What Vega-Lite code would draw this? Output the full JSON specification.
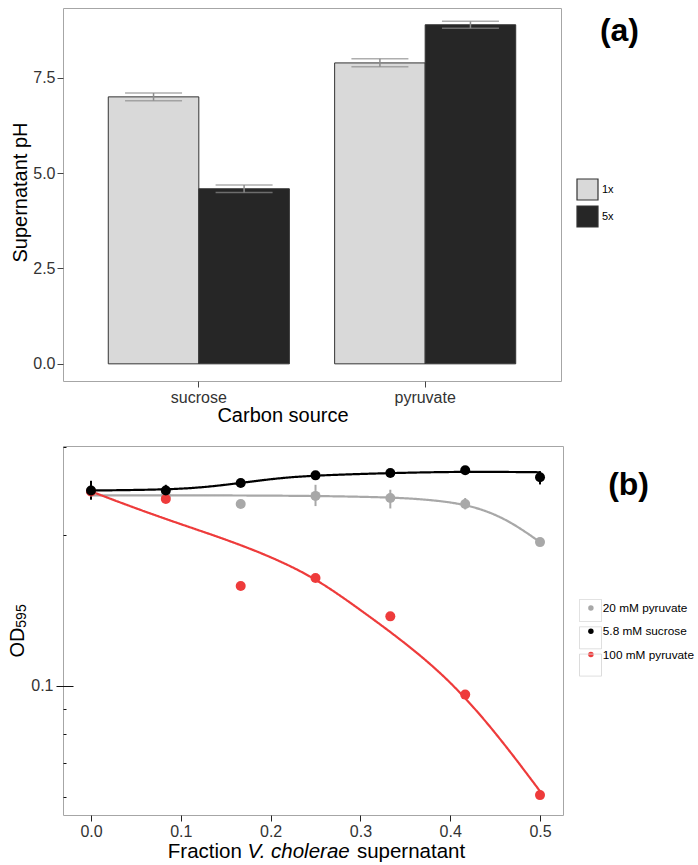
{
  "$schema": "https://vega.github.io/schema/vega-lite/v6.json",
  "padding": {"left": 6, "top": 7, "right": 0, "bottom": 0},
  "spacing": 19,
  "resolve": {"scale": {"color": "independent", "strokeDash": "independent"}, "legend": {"color": "independent", "strokeDash": "independent"}},
  "config": {
    "font": "Liberation Sans",
    "view": {"stroke": "#a6a6a6", "strokeWidth": 1},
    "axis": {"grid": false, "domain": false, "labelFont": "Liberation Sans", "titleFont": "Liberation Sans", "labelColor": "#333", "titleColor": "#000", "titleFontWeight": "normal", "tickColor": "#444", "labelFontSize": 16, "titleFontSize": 20, "tickSize": 6, "labelPadding": 2},
    "legend": {"labelFont": "Liberation Sans", "labelColor": "#000"},
    "title": {"font": "Liberation Sans"}
  },
  "datasets": {
    "bars": [
      {"carbon": "sucrose", "conc": "1x", "ph": 7.0, "lo": 6.9, "hi": 7.1},
      {"carbon": "sucrose", "conc": "5x", "ph": 4.59, "lo": 4.49, "hi": 4.69},
      {"carbon": "pyruvate", "conc": "1x", "ph": 7.89, "lo": 7.79, "hi": 8.0},
      {"carbon": "pyruvate", "conc": "5x", "ph": 8.89, "lo": 8.8, "hi": 8.98}
    ],
    "curves": [
      {"series": "20 mM pyruvate", "x": 0, "od": 0.2406},
      {"series": "20 mM pyruvate", "x": 0.0833, "od": 0.2406},
      {"series": "20 mM pyruvate", "x": 0.1667, "od": 0.2405},
      {"series": "20 mM pyruvate", "x": 0.25, "od": 0.24},
      {"series": "20 mM pyruvate", "x": 0.3333, "od": 0.2385},
      {"series": "20 mM pyruvate", "x": 0.375, "od": 0.236},
      {"series": "20 mM pyruvate", "x": 0.4167, "od": 0.2312},
      {"series": "20 mM pyruvate", "x": 0.45, "od": 0.2208},
      {"series": "20 mM pyruvate", "x": 0.475, "od": 0.2086},
      {"series": "20 mM pyruvate", "x": 0.5, "od": 0.194},
      {"series": "100 mM pyruvate", "x": 0, "od": 0.245},
      {"series": "100 mM pyruvate", "x": 0.05, "od": 0.2265},
      {"series": "100 mM pyruvate", "x": 0.1, "od": 0.2106},
      {"series": "100 mM pyruvate", "x": 0.15, "od": 0.1965},
      {"series": "100 mM pyruvate", "x": 0.2, "od": 0.1815},
      {"series": "100 mM pyruvate", "x": 0.25, "od": 0.1644},
      {"series": "100 mM pyruvate", "x": 0.3, "od": 0.142},
      {"series": "100 mM pyruvate", "x": 0.35, "od": 0.122},
      {"series": "100 mM pyruvate", "x": 0.4, "od": 0.1025},
      {"series": "100 mM pyruvate", "x": 0.45, "od": 0.0811},
      {"series": "100 mM pyruvate", "x": 0.5, "od": 0.0616},
      {"series": "5.8 mM sucrose", "x": 0, "od": 0.246},
      {"series": "5.8 mM sucrose", "x": 0.0833, "od": 0.247},
      {"series": "5.8 mM sucrose", "x": 0.125, "od": 0.2495},
      {"series": "5.8 mM sucrose", "x": 0.1667, "od": 0.2547},
      {"series": "5.8 mM sucrose", "x": 0.2083, "od": 0.2605},
      {"series": "5.8 mM sucrose", "x": 0.25, "od": 0.2638},
      {"series": "5.8 mM sucrose", "x": 0.3333, "od": 0.2667},
      {"series": "5.8 mM sucrose", "x": 0.4167, "od": 0.2685},
      {"series": "5.8 mM sucrose", "x": 0.5, "od": 0.2676}
    ],
    "pts": [
      {"series": "20 mM pyruvate", "x": 0, "od": 0.245},
      {"series": "20 mM pyruvate", "x": 0.0833, "od": 0.24},
      {"series": "20 mM pyruvate", "x": 0.1667, "od": 0.2312},
      {"series": "20 mM pyruvate", "x": 0.25, "od": 0.24},
      {"series": "20 mM pyruvate", "x": 0.3333, "od": 0.2377},
      {"series": "20 mM pyruvate", "x": 0.4167, "od": 0.2312},
      {"series": "20 mM pyruvate", "x": 0.5, "od": 0.194},
      {"series": "100 mM pyruvate", "x": 0, "od": 0.245},
      {"series": "100 mM pyruvate", "x": 0.0833, "od": 0.2366},
      {"series": "100 mM pyruvate", "x": 0.1667, "od": 0.1585},
      {"series": "100 mM pyruvate", "x": 0.25, "od": 0.1644},
      {"series": "100 mM pyruvate", "x": 0.3333, "od": 0.1378},
      {"series": "100 mM pyruvate", "x": 0.4167, "od": 0.0961},
      {"series": "100 mM pyruvate", "x": 0.5, "od": 0.0605},
      {"series": "5.8 mM sucrose", "x": 0, "od": 0.246},
      {"series": "5.8 mM sucrose", "x": 0.0833, "od": 0.246},
      {"series": "5.8 mM sucrose", "x": 0.1667, "od": 0.2547},
      {"series": "5.8 mM sucrose", "x": 0.25, "od": 0.2638},
      {"series": "5.8 mM sucrose", "x": 0.3333, "od": 0.2667},
      {"series": "5.8 mM sucrose", "x": 0.4167, "od": 0.27},
      {"series": "5.8 mM sucrose", "x": 0.5, "od": 0.2615}
    ],
    "errs": [
      {"series": "20 mM pyruvate", "x": 0.25, "lo": 0.229, "hi": 0.2526},
      {"series": "20 mM pyruvate", "x": 0.3333, "lo": 0.2265, "hi": 0.2469},
      {"series": "20 mM pyruvate", "x": 0.4167, "lo": 0.2255, "hi": 0.2377},
      {"series": "100 mM pyruvate", "x": 0.0833, "lo": 0.2338, "hi": 0.2395},
      {"series": "5.8 mM sucrose", "x": 0, "lo": 0.2358, "hi": 0.2573},
      {"series": "5.8 mM sucrose", "x": 0.0833, "lo": 0.2385, "hi": 0.2526},
      {"series": "5.8 mM sucrose", "x": 0.5, "lo": 0.253, "hi": 0.269}
    ]
  },
  "vconcat": [
    {
      "width": 498,
      "height": 373,
      "title": {"text": "(a)", "anchor": "end", "frame": "group", "orient": "top", "fontSize": 32, "fontWeight": "bold", "color": "#000", "baseline": "alphabetic", "offset": -65, "dx": 78},
      "layer": [
        {
          "data": {"name": "bars"},
          "mark": {"type": "bar", "stroke": "#333", "strokeWidth": 1},
          "encoding": {
            "x": {"field": "carbon", "type": "nominal", "sort": ["sucrose", "pyruvate"], "title": "Carbon source", "scale": {"paddingInner": 0.2, "paddingOuter": 0.2}, "axis": {"labelAngle": 0, "titleX": 219.5, "titleY": 40, "titleAlign": "center", "titleBaseline": "alphabetic"}},
            "xOffset": {"field": "conc", "type": "nominal", "sort": ["1x", "5x"], "scale": {"paddingInner": 0, "paddingOuter": 0}},
            "y": {"field": "ph", "type": "quantitative", "title": "Supernatant pH", "scale": {"domain": [-0.45, 9.33], "nice": false, "zero": false}, "axis": {"values": [0, 2.5, 5, 7.5], "format": ".1f", "titleX": -42.5, "titleY": 184, "titleAngle": -90, "titleAlign": "center", "titleBaseline": "middle"}},
            "color": {"field": "conc", "type": "nominal", "scale": {"domain": ["1x", "5x"], "range": ["#D9D9D9", "#262626"]}, "legend": {"title": null, "orient": "none", "legendX": 515, "legendY": 172, "symbolType": "M-1.2125,-1.2125H1.2125V1.2125H-1.2125Z", "symbolSize": 300, "symbolStrokeColor": "#333", "symbolStrokeWidth": 1.2, "labelFontSize": 11, "labelOffset": 5, "rowPadding": 0, "padding": 0}}
          }
        },
        {
          "data": {"name": "bars"},
          "mark": {"type": "rule", "color": "#8c8c8c", "strokeWidth": 1.5},
          "encoding": {
            "x": {"field": "carbon", "type": "nominal", "sort": ["sucrose", "pyruvate"], "title": "Carbon source"},
            "xOffset": {"field": "conc", "type": "nominal", "sort": ["1x", "5x"]},
            "y": {"field": "lo", "type": "quantitative", "title": "Supernatant pH"},
            "y2": {"field": "hi"}
          }
        },
        {
          "data": {"name": "bars"},
          "mark": {"type": "tick", "color": "#8c8c8c", "thickness": 1.5, "size": 57},
          "encoding": {
            "x": {"field": "carbon", "type": "nominal", "sort": ["sucrose", "pyruvate"], "title": "Carbon source"},
            "xOffset": {"field": "conc", "type": "nominal", "sort": ["1x", "5x"]},
            "y": {"field": "lo", "type": "quantitative", "title": "Supernatant pH"}
          }
        },
        {
          "data": {"name": "bars"},
          "mark": {"type": "tick", "color": "#8c8c8c", "thickness": 1.5, "size": 57},
          "encoding": {
            "x": {"field": "carbon", "type": "nominal", "sort": ["sucrose", "pyruvate"], "title": "Carbon source"},
            "xOffset": {"field": "conc", "type": "nominal", "sort": ["1x", "5x"]},
            "y": {"field": "hi", "type": "quantitative", "title": "Supernatant pH"}
          }
        }
      ]
    },
    {
      "width": 500,
      "height": 369,
      "title": {"text": "(b)", "anchor": "end", "frame": "group", "orient": "top", "fontSize": 32, "fontWeight": "bold", "color": "#000", "baseline": "alphabetic", "offset": -81, "dx": 86},
      "resolve": {"axis": {"x": "independent", "y": "independent"}},
      "layer": [
        {
          "data": {"name": "curves"},
          "mark": {"type": "line", "interpolate": "basis", "strokeWidth": 2.2},
          "encoding": {
            "x": {"field": "x", "type": "quantitative", "scale": {"domain": [-0.0312, 0.5256], "nice": false, "zero": false}, "axis": {"orient": "bottom", "values": [0, 0.1, 0.2, 0.3, 0.4, 0.5], "format": ".1f", "tickColor": "#222", "title": "Fraction", "titleFontSize": 20.5, "titleX": 104.3, "titleY": 42, "titleAlign": "left", "titleBaseline": "alphabetic"}},
            "y": {"field": "od", "type": "quantitative", "scale": {"type": "log", "domain": [0.0552, 0.302], "nice": false}, "axis": {"orient": "left", "values": [0.1], "format": ".1f", "offset": -10, "tickSize": 17, "tickColor": "#111", "labelPadding": 3, "title": "OD", "titleX": -56, "titleY": 196, "titleAngle": -90, "titleAlign": "center", "titleBaseline": "middle"}},
            "color": {"field": "series", "type": "nominal", "scale": {"domain": ["20 mM pyruvate", "5.8 mM sucrose", "100 mM pyruvate"], "range": ["#A8A8A8", "#000000", "#EE3B3B"]}},
            "strokeDash": {"field": "series", "type": "nominal", "scale": {"range": [[1, 0], [1, 0], [1, 0]]}, "legend": {"title": null, "orient": "none", "legendX": 516, "legendY": 153, "symbolType": "square", "symbolSize": 484, "symbolStrokeColor": "#d9d9d9", "symbolStrokeWidth": 1, "symbolFillColor": "transparent", "labelExpr": "''", "rowPadding": 0.3, "padding": 0}}
          }
        },
        {
          "data": {"name": "errs"},
          "mark": {"type": "rule", "strokeWidth": 2},
          "encoding": {
            "x": {"field": "x", "type": "quantitative", "axis": {"orient": "bottom", "labels": false, "ticks": false, "domain": false, "title": "V. cholerae", "titleFontSize": 20.5, "titleFontStyle": "italic", "titleX": 184, "titleY": 42, "titleAlign": "left", "titleBaseline": "alphabetic"}},
            "y": {"field": "lo", "type": "quantitative", "axis": {"orient": "left", "values": [0.06, 0.07, 0.08, 0.09, 0.2, 0.3], "offset": -3, "tickSize": 3, "tickColor": "#111", "labels": false, "title": "595", "titleFontSize": 14, "titleX": -44.7, "titleY": 169.5, "titleAngle": -90, "titleAlign": "center", "titleBaseline": "middle"}},
            "y2": {"field": "hi"},
            "color": {"field": "series", "type": "nominal"}
          }
        },
        {
          "data": {"name": "pts"},
          "mark": {"type": "point", "filled": true, "size": 100, "opacity": 1},
          "encoding": {
            "x": {"field": "x", "type": "quantitative", "axis": {"orient": "bottom", "labels": false, "ticks": false, "domain": false, "title": "supernatant", "titleFontSize": 20.5, "titleX": 293.4, "titleY": 42, "titleAlign": "left", "titleBaseline": "alphabetic"}},
            "y": {"field": "od", "type": "quantitative", "axis": null},
            "color": {"field": "series", "type": "nominal", "legend": {"title": null, "orient": "none", "legendX": 522, "legendY": 156, "symbolType": "circle", "symbolSize": 30, "symbolStrokeWidth": 0, "labelFontSize": 11.8, "labelOffset": 6, "rowPadding": 10.3, "padding": 0}}
          }
        }
      ]
    }
  ]
}
